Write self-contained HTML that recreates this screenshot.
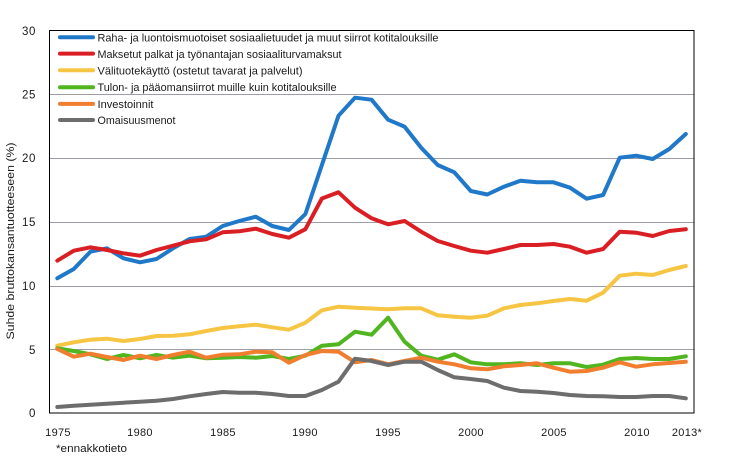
<!DOCTYPE html>
<html>
<head>
<meta charset="utf-8">
<style>
html,body{margin:0;padding:0;background:#fff;}
svg{display:block;}
text{font-family:"Liberation Sans",sans-serif;fill:#1a1a1a;}
</style>
</head>
<body>
<svg width="745" height="464" viewBox="0 0 745 464" xmlns="http://www.w3.org/2000/svg">
<rect x="0" y="0" width="745" height="464" fill="#fff"/>
<!-- gridlines -->
<g stroke="#a09ca6" stroke-width="1">
<line x1="49" y1="349.5" x2="694" y2="349.5"/>
<line x1="49" y1="286.5" x2="694" y2="286.5"/>
<line x1="49" y1="222.5" x2="694" y2="222.5"/>
<line x1="49" y1="158.5" x2="694" y2="158.5"/>
<line x1="49" y1="94.5" x2="694" y2="94.5"/>
</g>
<rect x="49.5" y="30.5" width="644.5" height="382.5" fill="none" stroke="#000" stroke-width="1"/>
<!-- y tick labels -->
<g font-size="11.5" text-anchor="end" letter-spacing="0.6">
<text x="36" y="35">30</text>
<text x="36" y="98.5">25</text>
<text x="36" y="162">20</text>
<text x="36" y="226">15</text>
<text x="36" y="290">10</text>
<text x="36" y="354">5</text>
<text x="36" y="417">0</text>
</g>
<text transform="translate(14,241) rotate(-90)" font-size="11" text-anchor="middle" textLength="197" lengthAdjust="spacingAndGlyphs">Suhde bruttokansantuotteeseen (%)</text>
<!-- x labels -->
<g font-size="11" text-anchor="middle" letter-spacing="0.3">
<text x="58" y="436">1975</text>
<text x="140" y="436">1980</text>
<text x="223" y="436">1985</text>
<text x="305" y="436">1990</text>
<text x="388" y="436">1995</text>
<text x="471" y="436">2000</text>
<text x="554" y="436">2005</text>
<text x="637" y="436">2010</text>
<text x="687" y="436">2013*</text>
</g>
<text x="56" y="452" font-size="11" textLength="71" lengthAdjust="spacingAndGlyphs">*ennakkotieto</text>
<!-- series -->
<g fill="none" stroke-width="4" stroke-linejoin="round" stroke-linecap="round">
<polyline stroke="#1f78c8" points="57.3,278.3 73.8,269 90.4,251.7 106.9,248.3 123.5,258.3 140,262.3 156.5,259 173.1,248.3 189.6,239 206.2,236.7 222.7,226 239.2,221 255.8,216.7 272.3,226 288.9,230 305.4,214 321.9,165 338.5,115.7 355,97.7 371.6,99.7 388.1,119.7 404.6,126.7 421.2,147.7 437.7,165 454.3,172.3 470.8,191 487.3,194.5 503.9,186.7 520.4,180.7 537,182.3 553.5,182.3 570,187.7 586.6,198.7 603.1,195 619.7,157.7 636.2,155.7 652.7,159 669.3,149 685.8,134"/>
<polyline stroke="#da1f24" points="57.3,260.7 73.8,250.7 90.4,247.3 106.9,250 123.5,253.3 140,255.7 156.5,250 173.1,245.7 189.6,241.3 206.2,239.3 222.7,232.3 239.2,231.3 255.8,228.7 272.3,234 288.9,237.7 305.4,229.2 321.9,198.5 338.5,192.3 355,207.7 371.6,218.3 388.1,224.3 404.6,221 421.2,231.7 437.7,241 454.3,246 470.8,250.7 487.3,252.7 503.9,249 520.4,245 537,245 553.5,244 570,246.7 586.6,252.7 603.1,249 619.7,231.7 636.2,232.7 652.7,236 669.3,231 685.8,229.3"/>
<polyline stroke="#f6c544" points="57.3,345.7 73.8,342.3 90.4,339.7 106.9,338.7 123.5,341 140,339 156.5,336 173.1,335.7 189.6,334.3 206.2,331 222.7,328 239.2,326.3 255.8,324.7 272.3,327.3 288.9,329.7 305.4,322.7 321.9,310.3 338.5,306.7 355,307.7 371.6,308.5 388.1,309.3 404.6,308.3 421.2,308.3 437.7,315.3 454.3,316.7 470.8,317.7 487.3,315.7 503.9,308.3 520.4,305 537,303.3 553.5,301 570,299 586.6,300.7 603.1,292.7 619.7,275.7 636.2,273.7 652.7,275 669.3,270 685.8,266"/>
<polyline stroke="#50b51f" points="57.3,348.3 73.8,351 90.4,354.3 106.9,359 123.5,355 140,358.3 156.5,355 173.1,357.7 189.6,355.7 206.2,358.3 222.7,357.7 239.2,357 255.8,357.7 272.3,356 288.9,359 305.4,355.7 321.9,345.7 338.5,344.3 355,331.7 371.6,334.7 388.1,317.7 404.6,341.7 421.2,355.7 437.7,359.7 454.3,354.3 470.8,362.3 487.3,364.3 503.9,364.3 520.4,363.3 537,365 553.5,363.3 570,363.3 586.6,367 603.1,364.7 619.7,359 636.2,358 652.7,359 669.3,359 685.8,356.3"/>
<polyline stroke="#f07e2e" points="57.3,349 73.8,356.7 90.4,353.7 106.9,357 123.5,360 140,355.7 156.5,359 173.1,355 189.6,351.7 206.2,357.7 222.7,354.7 239.2,354.3 255.8,351.7 272.3,352.3 288.9,362.7 305.4,355 321.9,351 338.5,351.7 355,362.3 371.6,360 388.1,364.3 404.6,361 421.2,357.7 437.7,361.7 454.3,364.3 470.8,368.3 487.3,369.3 503.9,366.3 520.4,365 537,363.3 553.5,367.7 570,371.7 586.6,371 603.1,367.7 619.7,362.3 636.2,366.7 652.7,364.3 669.3,363 685.8,361.7"/>
<polyline stroke="#6d6d6d" points="57.3,407 73.8,405.7 90.4,404.7 106.9,403.7 123.5,402.7 140,401.7 156.5,400.7 173.1,399 189.6,396.3 206.2,394 222.7,392 239.2,392.7 255.8,392.7 272.3,394 288.9,396 305.4,396 321.9,390 338.5,381.7 355,358.7 371.6,361 388.1,365 404.6,361.7 421.2,361.7 437.7,370 454.3,377.3 470.8,379 487.3,381 503.9,387.7 520.4,391 537,391.7 553.5,393 570,395 586.6,396 603.1,396.3 619.7,397 636.2,397 652.7,396 669.3,396 685.8,398.3"/>
</g>
<!-- legend -->
<g stroke-width="4" stroke-linecap="round">
<line x1="60" y1="37.3" x2="93" y2="37.3" stroke="#1f78c8"/>
<line x1="60" y1="53.6" x2="93" y2="53.6" stroke="#da1f24"/>
<line x1="60" y1="70.3" x2="93" y2="70.3" stroke="#f6c544"/>
<line x1="60" y1="87.2" x2="93" y2="87.2" stroke="#50b51f"/>
<line x1="60" y1="103.9" x2="93" y2="103.9" stroke="#f07e2e"/>
<line x1="60" y1="120" x2="93" y2="120" stroke="#6d6d6d"/>
</g>
<g font-size="11">
<text x="97.5" y="41.3" textLength="341" lengthAdjust="spacingAndGlyphs">Raha- ja luontoismuotoiset sosiaalietuudet ja muut siirrot kotitalouksille</text>
<text x="97.5" y="57.8" textLength="244" lengthAdjust="spacingAndGlyphs">Maksetut palkat ja työnantajan sosiaaliturvamaksut</text>
<text x="97.5" y="74.4" textLength="205" lengthAdjust="spacingAndGlyphs">Välituotekäyttö (ostetut tavarat ja palvelut)</text>
<text x="97.5" y="91.2" textLength="239" lengthAdjust="spacingAndGlyphs">Tulon- ja pääomansiirrot muille kuin kotitalouksille</text>
<text x="97.5" y="107.9" textLength="56" lengthAdjust="spacingAndGlyphs">Investoinnit</text>
<text x="97.5" y="124" textLength="78" lengthAdjust="spacingAndGlyphs">Omaisuusmenot</text>
</g>
</svg>
</body>
</html>
